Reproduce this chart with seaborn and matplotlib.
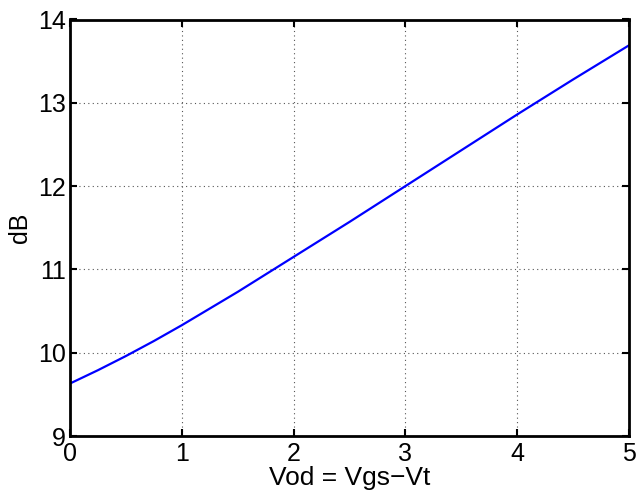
import numpy as np
import pandas as pd
import matplotlib
matplotlib.use("Agg")
import matplotlib.pyplot as plt
import seaborn as sns

vod = [0.0, 0.25, 0.5, 0.75, 1.0, 1.5, 2.0, 2.5, 3.0, 3.5, 4.0, 4.5, 5.0]
db = [9.63, 9.79, 9.96, 10.14, 10.33, 10.73, 11.15, 11.57, 12.0, 12.43, 12.86, 13.28, 13.69]
xticks = [0, 1, 2, 3, 4, 5]
yticks = [9, 10, 11, 12, 13, 14]

sns.set_theme(style="white")
plt.rcParams['font.family'] = ['Liberation Sans', 'DejaVu Sans']

fig = plt.figure(figsize=(6.36, 4.92), dpi=100)
ax = fig.add_axes([70/636, 1 - 436/492, (629-70)/636, (436-19.5)/492])

df = pd.DataFrame({"Vod": vod, "dB": db})
sns.lineplot(data=df, x="Vod", y="dB", ax=ax, color="#0000ff", linewidth=1.6)

ax.set_xlim(0, 5)
ax.set_ylim(9, 14)
ax.set_xticks(xticks)
ax.set_yticks(yticks)
ax.set_xticklabels([str(t) for t in xticks], fontsize=18)
ax.set_yticklabels([str(t) for t in yticks], fontsize=18)
ax.grid(True, linestyle=(0, (1, 3)), color="#555555", linewidth=0.8)
ax.tick_params(direction="in", length=5, width=1.5, color="black",
               top=True, right=True, bottom=True, left=True, labelcolor="black")
ax.tick_params(axis="x", pad=4)
ax.tick_params(axis="y", pad=3)
for s in ax.spines.values():
    s.set_visible(True)
    s.set_color("black")
    s.set_linewidth(2)
ax.set_xlabel("Vod = Vgs\u2212Vt", fontsize=19, labelpad=0.5, color="black")
ax.set_ylabel("dB", fontsize=18, labelpad=4, color="black")

fig.savefig("out.png", dpi=100, facecolor="white")
